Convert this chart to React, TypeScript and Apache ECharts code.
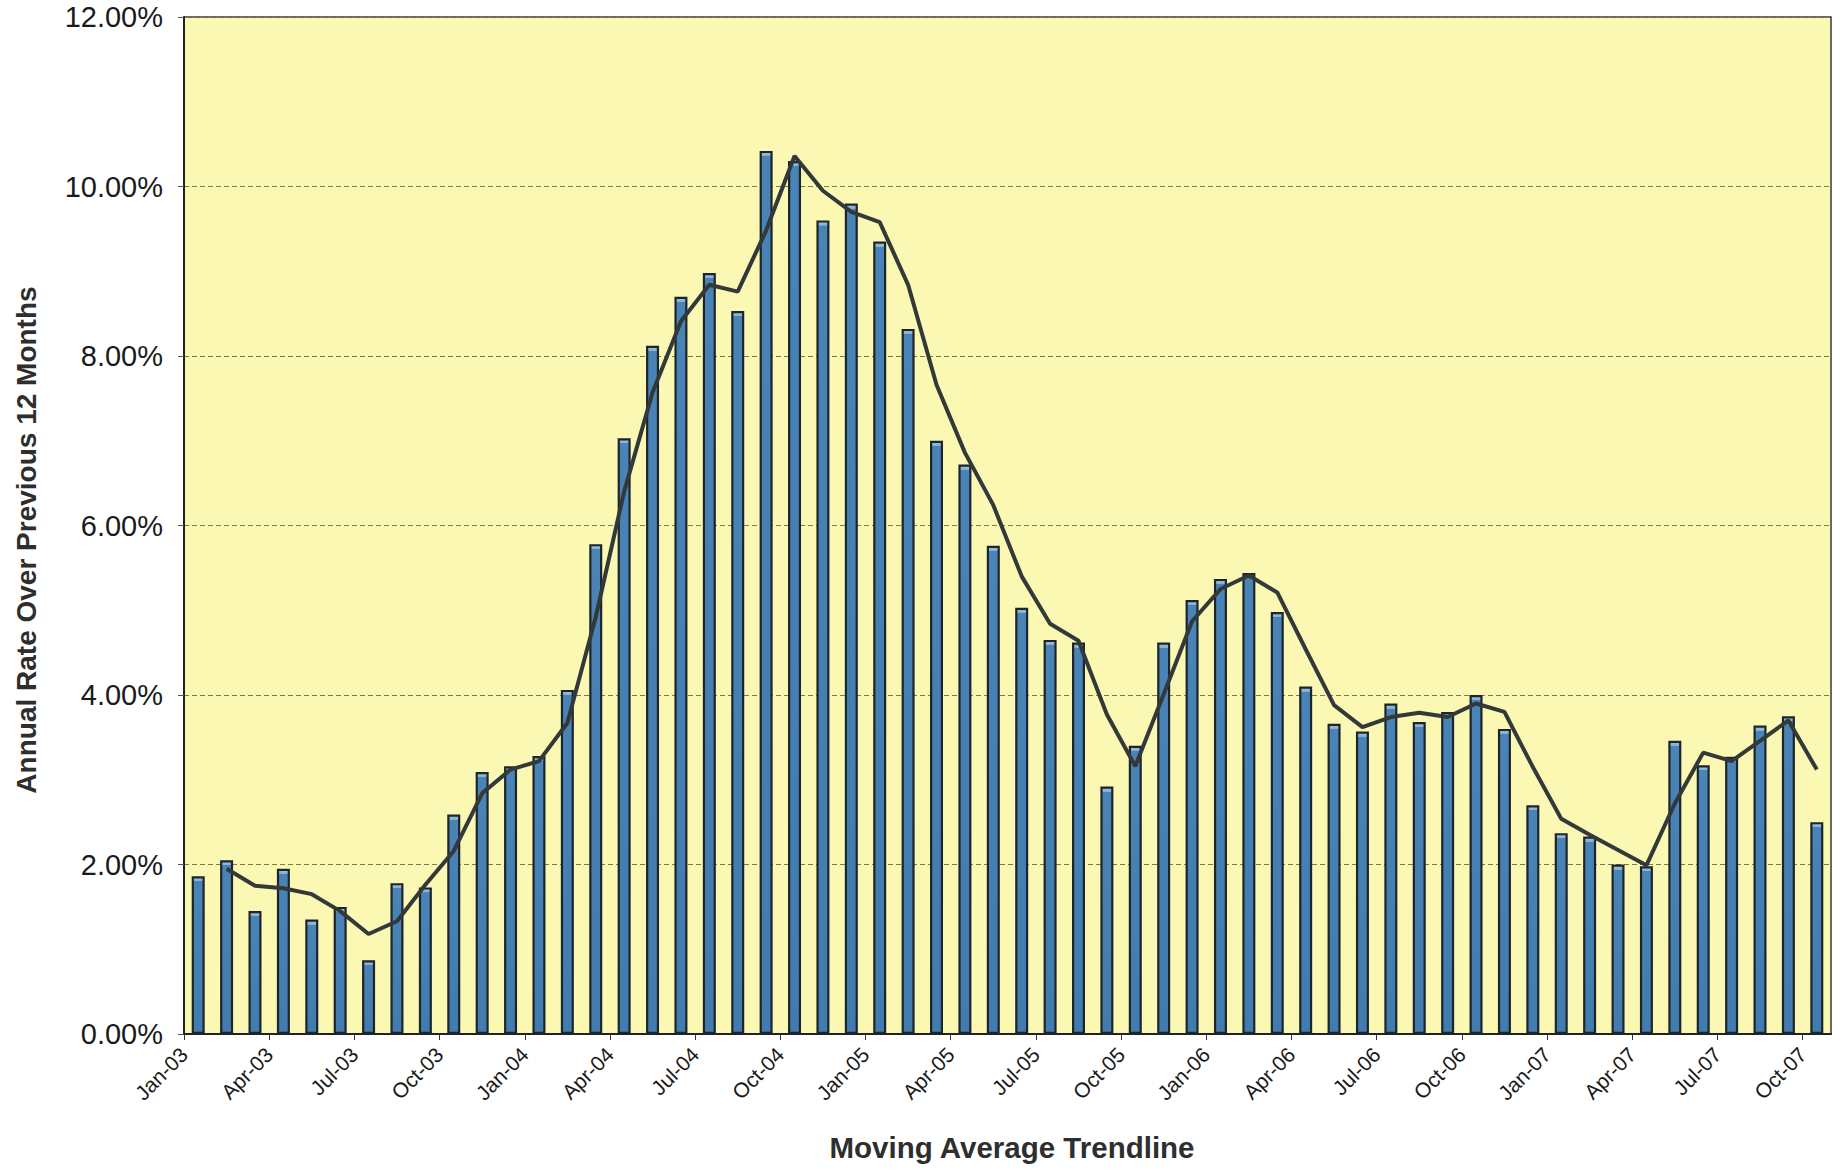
import React, { useEffect, useRef } from "react";
import * as echarts from "echarts";

const months = [
  "Jan-03", "Feb-03", "Mar-03", "Apr-03", "May-03", "Jun-03", "Jul-03", "Aug-03", "Sep-03", "Oct-03", "Nov-03", "Dec-03",
  "Jan-04", "Feb-04", "Mar-04", "Apr-04", "May-04", "Jun-04", "Jul-04", "Aug-04", "Sep-04", "Oct-04", "Nov-04", "Dec-04",
  "Jan-05", "Feb-05", "Mar-05", "Apr-05", "May-05", "Jun-05", "Jul-05", "Aug-05", "Sep-05", "Oct-05", "Nov-05", "Dec-05",
  "Jan-06", "Feb-06", "Mar-06", "Apr-06", "May-06", "Jun-06", "Jul-06", "Aug-06", "Sep-06", "Oct-06", "Nov-06", "Dec-06",
  "Jan-07", "Feb-07", "Mar-07", "Apr-07", "May-07", "Jun-07", "Jul-07", "Aug-07", "Sep-07", "Oct-07",
];

// Annual rate over previous 12 months (%)
const rates = [
  1.86, 2.05, 1.45, 1.95, 1.35, 1.50, 0.87, 1.78, 1.73, 2.59, 3.09, 3.16,
  3.28, 4.06, 5.78, 7.03, 8.12, 8.70, 8.98, 8.53, 10.42, 10.30, 9.60, 9.80,
  9.35, 8.32, 7.00, 6.72, 5.76, 5.03, 4.65, 4.62, 2.92, 3.40, 4.62, 5.12,
  5.37, 5.44, 4.98, 4.10, 3.66, 3.57, 3.90, 3.68, 3.80, 4.00, 3.60, 2.70,
  2.37, 2.33, 2.00, 1.98, 3.46, 3.17, 3.27, 3.64, 3.75, 2.50,
];

// Moving average trendline (%), starts at the second month
const trend = [
  null, 1.95, 1.75, 1.72, 1.65, 1.45, 1.18, 1.33, 1.76, 2.16, 2.84, 3.12,
  3.22, 3.67, 4.92, 6.40, 7.57, 8.41, 8.84, 8.76, 9.48, 10.36, 9.95, 9.70,
  9.58, 8.84, 7.66, 6.86, 6.24, 5.40, 4.84, 4.64, 3.77, 3.16, 4.01, 4.87,
  5.25, 5.41, 5.21, 4.54, 3.88, 3.62, 3.74, 3.79, 3.74, 3.90, 3.80, 3.15,
  2.54, 2.35, 2.17, 1.99, 2.72, 3.32, 3.22, 3.46, 3.70, 3.12,
];

const yMin = 0;
const yMax = 12;
const yStep = 2;
const labelEvery = 3;

const FONT = "'Liberation Sans', Arial, Helvetica, sans-serif";

export default function App() {
  const ref = useRef<HTMLDivElement>(null);

  useEffect(() => {
    document.body.style.margin = "0";
    if (!ref.current) return;
    const chart = echarts.init(ref.current, null, { renderer: "svg" });

    const gridTop = 17;
    const gridBottom = 135;
    const plotH = 1169 - gridTop - gridBottom;
    const capPx = 4;

    const barData = rates.map((v, i) => {
      const h = Math.max(1, (v / yMax) * plotH);
      const f = Math.min(0.5, capPx / h);
      return {
        value: [i + 0.5, v],
        itemStyle: {
          color: new echarts.graphic.LinearGradient(0, 0, 0, 1, [
            { offset: 0, color: "#9cc0dc" },
            { offset: f, color: "#86afd0" },
            { offset: f + 0.0001, color: "#4a83b5" },
            { offset: 1, color: "#427bae" },
          ]),
        },
      };
    });
    const lineData: any[] = [];
    trend.forEach((v, i) => {
      if (v != null) lineData.push([i + 0.5, v]);
    });

    chart.setOption({
      animation: false,
      backgroundColor: "#ffffff",
      grid: {
        left: 184,
        right: 14,
        top: gridTop,
        bottom: gridBottom,
        show: true,
        backgroundColor: "#fbf8b4",
        borderColor: "#3a3a3a",
        borderWidth: 1.5,
      },
      xAxis: {
        type: "value",
        min: 0,
        max: months.length,
        interval: labelEvery,
        axisLine: { show: true, onZero: false, lineStyle: { color: "#222", width: 2 } },
        axisTick: { show: true, length: 6, lineStyle: { color: "#333", width: 1 } },
        splitLine: { show: false },
        axisLabel: {
          rotate: 45,
          margin: 17,
          fontSize: 21,
          fontFamily: FONT,
          color: "#1a1a1a",
          showMaxLabel: false,
          formatter: (v: number) =>
            v % labelEvery === 0 && v < months.length ? months[v] : "",
        },
      },
      yAxis: {
        type: "value",
        min: yMin,
        max: yMax,
        interval: yStep,
        axisLine: { show: true, lineStyle: { color: "#222", width: 2 } },
        axisTick: { show: true, length: 6, lineStyle: { color: "#555" } },
        splitLine: {
          show: true,
          lineStyle: { color: "#7d7a4c", width: 1, type: [5, 3] },
        },
        axisLabel: {
          margin: 21,
          fontSize: 29,
          fontFamily: FONT,
          color: "#1a1a1a",
          formatter: (v: number) => v.toFixed(2) + "%",
        },
      },
      series: [
        {
          type: "bar",
          data: barData,
          barWidth: 13,
          itemStyle: {
            color: "#4a83b5",
            borderColor: "#1c252c",
            borderWidth: 2.2,
          },
          z: 2,
        },
        {
          type: "line",
          data: lineData,
          symbol: "none",
          lineStyle: { color: "#333838", width: 4 },
          z: 3,
        },
      ],
      graphic: [
        {
          type: "text",
          x: 26,
          y: 540,
          rotation: Math.PI / 2,
          style: {
            text: "Annual Rate Over Previous 12 Months",
            font: `bold 28px ${FONT}`,
            fill: "#2e2e2e",
            align: "center",
            verticalAlign: "middle",
            textAlign: "center",
            textVerticalAlign: "middle",
          },
        },
        {
          type: "text",
          x: 1012,
          y: 1147,
          style: {
            text: "Moving Average Trendline",
            font: `bold 29.5px ${FONT}`,
            fill: "#2e2e2e",
            align: "center",
            verticalAlign: "middle",
            textAlign: "center",
            textVerticalAlign: "middle",
          },
        },
      ],
    });

    return () => {
      chart.dispose();
    };
  }, []);

  return <div ref={ref} style={{ width: 1845, height: 1169 }} />;
}
